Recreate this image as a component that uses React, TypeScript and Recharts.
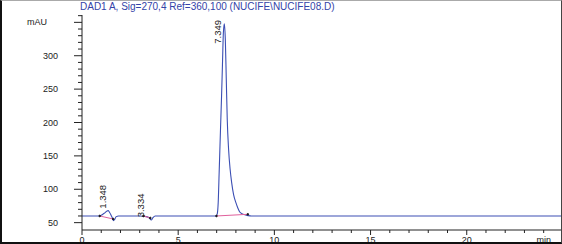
import React from 'react';
import { ComposedChart, Line, XAxis, YAxis, ReferenceDot } from 'recharts';

// chromatogram trace (min, mAU)
const times = [0, 0.5, 0.9, 1.0, 1.1, 1.2, 1.3, 1.36, 1.42, 1.5, 1.58, 1.64, 1.7, 1.78, 1.9, 2.5, 3.0, 3.2, 3.35, 3.5, 3.6, 3.68, 3.8, 4.5, 6.0, 6.98, 7.03, 7.08, 7.13, 7.2, 7.25, 7.3, 7.35, 7.4, 7.45, 7.5, 7.55, 7.62, 7.7, 7.78, 7.88, 8.0, 8.1, 8.2, 8.35, 8.5, 8.65, 8.8, 10, 15, 20, 24.9];
const signal = [60, 60, 60, 61, 63, 65, 67.5, 68, 66, 62, 57, 53, 55, 59, 60, 60, 60, 59.5, 59, 57, 54, 57, 60, 60, 60, 60, 63, 80, 125, 190, 235, 285, 335, 348, 325, 265, 205, 160, 130, 110, 92, 80, 72, 66, 63, 61.5, 60.5, 60, 60, 60, 60, 60];

// integration baselines
const base1T = [0.92, 1.62];
const base1V = [60, 55.5];
const base2T = [3.2, 3.55];
const base2V = [60, 57];
const base3T = [6.99, 8.62];
const base3V = [60, 62.5];

// peak annotations
const peakNames = ['1.348', '3.334', '7.349'];
const peakTimes = [1.348, 3.334, 7.349];
const labelStart = [71, 58, 318];

const xTicks = [0, 1, 2, 3, 4, 5, 6, 7, 8, 9, 10, 11, 12, 13, 14, 15, 16, 17, 18, 19, 20, 21, 22, 23, 24];
const yTicks = [50, 60, 70, 80, 90, 100, 110, 120, 130, 140, 150, 160, 170, 180, 190, 200, 210, 220, 230, 240, 250, 260, 270, 280, 290, 300, 310, 320, 330, 340, 350, 360];

const FONT = '"Liberation Sans Narrow", "Liberation Sans", Arial, sans-serif';
const BLUE = '#3c4fb4';
const PINK = '#e0609c';

const trace = times.map((t, i) => ({ t, v: signal[i] }));
const seg = (ts: number[], vs: number[]) => ts.map((t, i) => ({ t, v: vs[i] }));

const YTick = (props: any) => {
  const { x, y, payload } = props;
  const v = payload.value;
  const major = v % 50 === 0;
  return (
    <g>
      <line x1={x - (major ? 8 : 4)} x2={x} y1={y} y2={y} stroke="#222" strokeWidth={1} />
      {major && (
        <text x={v === 350 ? x - 35 : x - 24} y={y} dy={3} textAnchor="end" fontSize={9} fontFamily={FONT} fill="#222">
          {v === 350 ? 'mAU' : v}
        </text>
      )}
    </g>
  );
};

const XTick = (props: any) => {
  const { x, y, payload } = props;
  const v = payload.value;
  const major = v % 5 === 0;
  let txt = '';
  if (major) txt = String(v);
  if (v === 24) txt = 'min';
  return (
    <g>
      <line x1={x} x2={x} y1={y} y2={y + (major ? 5 : 3)} stroke="#222" strokeWidth={1} />
      {txt && (
        <text x={x} y={y + 13} textAnchor="middle" fontSize={9} fontFamily={FONT} fill="#222">
          {txt}
        </text>
      )}
    </g>
  );
};

const PeakLabel = (props: any) => {
  const { cx, cy, name } = props;
  const lx = cx - 2;
  return (
    <text x={lx} y={cy} transform={`rotate(-90 ${lx} ${cy})`} fontSize={9.5} fontFamily={FONT} fill="#222">
      {name}
    </text>
  );
};

export default function App() {
  return (
    <div style={{ position: 'absolute', left: 0, top: 0, width: 562, height: 244, background: '#fff', overflow: 'hidden' }}>
      <div
        style={{
          position: 'absolute',
          left: 80,
          top: 2,
          fontFamily: FONT,
          fontSize: 10,
          lineHeight: '10px',
          color: '#3343a8',
          whiteSpace: 'nowrap',
        }}
      >
        DAD1 A, Sig=270,4 Ref=360,100 (NUCIFE\NUCIFE08.D)
      </div>
      <ComposedChart width={562} height={244} margin={{ top: 15, right: 1, bottom: 0, left: 0 }}>
        <XAxis
          dataKey="t"
          type="number"
          domain={[0, 24.9]}
          allowDataOverflow
          ticks={xTicks}
          interval={0}
          height={14}
          tickSize={0}
          tickMargin={0}
          tickLine={false}
          axisLine={{ stroke: '#222' }}
          tick={<XTick />}
        />
        <YAxis
          type="number"
          domain={[39, 361]}
          allowDataOverflow
          ticks={yTicks}
          interval={0}
          width={82}
          tickSize={0}
          tickMargin={0}
          tickLine={false}
          axisLine={{ stroke: '#222' }}
          tick={<YTick />}
        />
        <Line data={trace} dataKey="v" type="monotone" stroke={BLUE} strokeWidth={1.1} dot={false} isAnimationActive={false} />
        <Line data={seg(base1T, base1V)} dataKey="v" stroke={PINK} strokeWidth={1} dot={{ r: 0.8, fill: '#111', stroke: '#111' }} isAnimationActive={false} />
        <Line data={seg(base2T, base2V)} dataKey="v" stroke={PINK} strokeWidth={1} dot={{ r: 0.8, fill: '#111', stroke: '#111' }} isAnimationActive={false} />
        <Line data={seg(base3T, base3V)} dataKey="v" stroke={PINK} strokeWidth={1} dot={{ r: 0.8, fill: '#111', stroke: '#111' }} isAnimationActive={false} />
        {peakTimes.map((t, i) => (
          <ReferenceDot
            key={peakNames[i]}
            x={t}
            y={labelStart[i]}
            r={1}
            shape={(p: any) => <PeakLabel {...p} name={peakNames[i]} />}
          />
        ))}
      </ComposedChart>
      <div
        style={{
          position: 'absolute',
          left: 0,
          top: 0,
          width: 562,
          height: 244,
          boxSizing: 'border-box',
          borderLeft: '2px solid #111',
          borderBottom: '2px solid #111',
          borderRight: '1px solid #444',
          borderTop: '1px solid #aaa',
          pointerEvents: 'none',
        }}
      />
    </div>
  );
}
